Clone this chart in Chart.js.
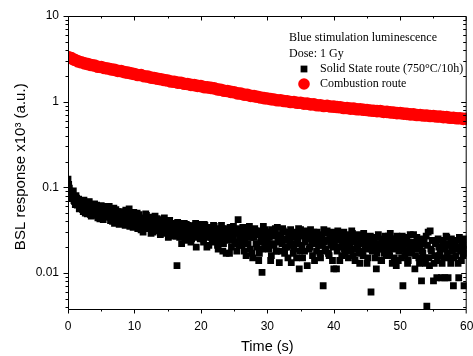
<!DOCTYPE html>
<html><head><meta charset="utf-8">
<script src="https://cdn.jsdelivr.net/npm/chart.js@4"></script>
<style>html,body{margin:0;padding:0;background:#fff;overflow:hidden}</style>
</head><body>
<canvas id="c" width="473" height="356" style="width:473px;height:356px;display:block"></canvas>
<script>
// ---- data ----
const solidStateStep = 0.2;   // s between samples, first set starts at 0 s
const solidStateValues = [
  0.125,0.098,0.085,0.074,0.091,0.068,0.080,0.062,0.073,0.058,
  0.066,0.055,0.071,0.050,0.062,0.057,0.068,0.048,0.060,0.053,
  0.064,0.047,0.058,0.052,0.043,0.061,0.050,0.055,0.045,0.057,
  0.049,0.060,0.041,0.053,0.046,0.038,0.055,0.044,0.050,0.042,
  0.052,0.040,0.047,0.036,0.049,0.043,0.056,0.039,0.045,0.034,
  0.046,0.038,0.050,0.035,0.042,0.032,0.044,0.039,0.036,0.047,
  0.033,0.041,0.037,0.045,0.030,0.039,0.034,0.043,0.031,0.038,
  0.035,0.042,0.029,0.037,0.033,0.040,0.028,0.036,0.031,0.027,
  0.038,0.030,0.0122,0.034,0.026,0.036,0.029,0.033,0.024,0.037,
  0.031,0.027,0.035,0.025,0.032,0.029,0.038,0.026,0.030,0.034,
  0.028,0.033,0.023,0.036,0.027,0.031,0.021,0.034,0.026,0.030,
  0.035,0.024,0.029,0.019,0.032,0.026,0.033,0.022,0.028,0.017,
  0.031,0.025,0.034,0.020,0.027,0.030,0.023,0.018,0.042,0.026,
  0.029,0.021,0.033,0.024,0.016,0.030,0.027,0.019,0.032,0.015,
  0.026,0.031,0.020,0.028,0.017,0.023,0.0102,0.035,0.022,0.029,
  0.024,0.019,0.030,0.016,0.027,0.021,0.033,0.018,0.025,0.0132,
  0.028,0.022,0.031,0.017,0.025,0.020,0.029,0.023,0.0132,0.026,
  0.019,0.027,0.015,0.024,0.0112,0.032,0.021,0.028,0.018,0.025,
  0.0122,0.029,0.020,0.026,0.016,0.030,0.022,0.018,0.027,0.024,
  0.015,0.028,0.0071,0.023,0.019,0.031,0.017,0.025,0.021,0.014,
  0.0112,0.026,0.0112,0.031,0.020,0.024,0.016,0.028,0.019,0.022,
  0.025,0.015,0.021,0.018,0.029,0.023,0.014,0.026,0.020,0.017,
  0.022,0.027,0.016,0.024,0.019,0.013,0.025,0.021,0.006,0.018,
  0.023,0.015,0.0112,0.026,0.019,0.021,0.014,0.024,0.017,0.022,
  0.020,0.027,0.016,0.023,0.013,0.019,0.025,0.0122,0.021,0.018,
  0.024,0.015,0.0071,0.022,0.018,0.026,0.014,0.020,0.017,0.023,
  0.028,0.0112,0.019,0.024,0.015,0.021,0.0081,0.017,0.023,0.013,
  0.0041,0.030,0.0122,0.019,0.024,0.0081,0.016,0.022,0.014,0.020,
  0.017,0.0088,0.023,0.015,0.019,0.026,0.0088,0.021,0.013,0.018,
  0.0071,0.022,0.016,0.019,0.0088,0.024,0.014,0.020,0.0071,0.017,
  0.019
];
const solidStateOffsetValues = [   // samples in between, starting at 0.1 s
  0.108,0.090,0.076,0.084,0.070,0.063,0.075,0.066,0.056,0.069,
  0.060,0.052,0.064,0.058,0.049,0.067,0.054,0.046,0.059,0.051,
  0.055,0.062,0.044,0.050,0.059,0.048,0.042,0.053,0.060,0.046,
  0.054,0.045,0.051,0.040,0.057,0.048,0.043,0.052,0.037,0.047,
  0.044,0.050,0.038,0.054,0.041,0.046,0.035,0.048,0.042,0.051,
  0.040,0.045,0.033,0.048,0.037,0.043,0.030,0.041,0.049,0.034,
  0.043,0.036,0.029,0.040,0.035,0.046,0.032,0.037,0.041,0.028,
  0.039,0.032,0.044,0.030,0.038,0.026,0.041,0.034,0.037,0.030,
  0.033,0.027,0.039,0.031,0.035,0.022,0.032,0.038,0.028,0.034,
  0.036,0.029,0.023,0.033,0.027,0.036,0.020,0.031,0.037,0.025,
  0.032,0.025,0.037,0.029,0.020,0.034,0.026,0.030,0.023,0.036,
  0.027,0.033,0.021,0.030,0.025,0.036,0.018,0.029,0.033,0.024,
  0.028,0.017,0.032,0.024,0.035,0.022,0.029,0.033,0.021,0.030,
  0.025,0.034,0.018,0.028,0.031,0.022,0.035,0.026,0.017,0.029,
  0.033,0.022,0.029,0.014,0.031,0.025,0.019,0.027,0.032,0.021,
  0.030,0.026,0.014,0.032,0.022,0.028,0.018,0.034,0.023,0.027,
  0.018,0.033,0.024,0.020,0.030,0.015,0.027,0.032,0.021,0.017,
  0.030,0.022,0.026,0.033,0.018,0.027,0.015,0.029,0.023,0.031,
  0.026,0.019,0.032,0.023,0.028,0.014,0.025,0.030,0.021,0.017,
  0.027,0.021,0.032,0.018,0.024,0.029,0.016,0.026,0.030,0.020,
  0.023,0.029,0.018,0.025,0.014,0.027,0.022,0.030,0.017,0.025,
  0.028,0.020,0.024,0.031,0.016,0.026,0.019,0.022,0.028,0.013,
  0.025,0.018,0.029,0.021,0.026,0.015,0.023,0.027,0.019,0.024,
  0.020,0.026,0.017,0.028,0.022,0.014,0.025,0.019,0.027,0.016,
  0.024,0.017,0.029,0.020,0.025,0.015,0.022,0.027,0.014,0.023,
  0.019,0.027,0.021,0.016,0.025,0.013,0.023,0.028,0.018,0.021,
  0.022,0.016,0.026,0.020,0.013,0.025,0.018,0.022,0.015,0.027,
  0.021,0.015,0.031,0.018,0.024,0.013,0.022,0.0088,0.025,0.016,
  0.024,0.013,0.020,0.0088,0.027,0.017,0.022,0.015,0.025,0.019,
  0.015,0.024,0.020,0.013,0.026,0.018,0.022,0.016,0.025,0.021
];
const combustionStep = 0.5;   // s between samples
const combustionValues = [
  3.32,3.22,3.08,2.95,2.88,2.80,2.74,2.68,2.64,2.56,
  2.54,2.47,2.44,2.38,2.35,2.29,2.27,2.21,2.18,2.14,
  2.10,2.05,2.04,1.98,1.96,1.91,1.89,1.85,1.83,1.79,
  1.77,1.72,1.71,1.67,1.66,1.62,1.61,1.57,1.56,1.53,
  1.52,1.48,1.47,1.45,1.43,1.39,1.38,1.34,1.33,1.30,
  1.29,1.25,1.24,1.21,1.20,1.17,1.16,1.14,1.12,1.10,
  1.09,1.07,1.06,1.04,1.04,1.02,1.01,0.99,0.99,0.97,
  0.97,0.95,0.95,0.93,0.93,0.91,0.91,0.89,0.895,0.88,
  0.875,0.865,0.86,0.845,0.845,0.83,0.83,0.815,0.815,0.805,
  0.80,0.79,0.785,0.775,0.775,0.76,0.76,0.75,0.745,0.735,
  0.735,0.725,0.72,0.71,0.71,0.70,0.70,0.69,0.69,0.68,
  0.68,0.67,0.67,0.66,0.66,0.65,0.65,0.64,0.64,0.63,
  0.63
];
const seriesNames = ['Solid State route (750°C/10h)', 'Combustion route'];
const legendTitleLines = ['Blue stimulation luminescence', 'Dose: 1 Gy'];
const xTickValues = [0, 10, 20, 30, 40, 50, 60];
const xMinorTickValues = [5, 15, 25, 35, 45, 55];
const yTickValues = [0.01, 0.1, 1, 10];
const yMinorTickValues = [0.004,0.005,0.006,0.007,0.008,0.009,
  0.02,0.03,0.04,0.05,0.06,0.07,0.08,0.09,
  0.2,0.3,0.4,0.5,0.6,0.7,0.8,0.9,
  2,3,4,5,6,7,8,9];
const xTitle = 'Time (s)';
const yTitle = 'BSL response x10³ (a.u.)\u2002';

// ---- build points ----
const toPoints = (vals, step, start) => vals.map((v, i) => ({ x: +(start + i * step).toFixed(2), y: v }));
const solidStatePoints = toPoints(solidStateValues, solidStateStep, 0)
  .concat(toPoints(solidStateOffsetValues, solidStateStep, 0.1))
  .sort((a, b) => a.x - b.x);

const SANS = "'Liberation Sans', Arial, sans-serif";
const SERIF = "'Liberation Serif', 'Times New Roman', serif";

const axisFrame = {
  id: 'axisFrame',
  afterDraw(chart) {
    const { ctx, chartArea: a, scales: { x, y } } = chart;
    const L = a.left + 0.5, R = a.right - 0.5, T = a.top + 0.5, B = a.bottom - 0.5;
    const cx = v => Math.min(R, Math.max(L, Math.round(x.getPixelForValue(v)) + 0.5));
    const cy = v => Math.min(B, Math.max(T, Math.round(y.getPixelForValue(v)) + 0.5));
    ctx.save();
    ctx.strokeStyle = '#000';
    ctx.lineWidth = 1;
    ctx.beginPath();
    ctx.rect(L, T, R - L, B - T);
    const xt = (v, len) => { const p = cx(v); ctx.moveTo(p, B); ctx.lineTo(p, B + len); ctx.moveTo(p, T); ctx.lineTo(p, T + len); };
    const yt = (v, len) => { const p = cy(v); ctx.moveTo(L, p); ctx.lineTo(L - len, p); ctx.moveTo(R, p); ctx.lineTo(R - len, p); };
    xTickValues.forEach(v => xt(v, 4));
    xMinorTickValues.forEach(v => xt(v, 2));
    yTickValues.forEach(v => yt(v, 5));
    yMinorTickValues.forEach(v => yt(v, 3));
    ctx.stroke();
    ctx.restore();
  }
};

const legendBox = {
  id: 'legendBox',
  afterDraw(chart) {
    const { ctx } = chart;
    ctx.save();
    ctx.fillStyle = '#000';
    ctx.font = '12px ' + SERIF;
    ctx.textBaseline = 'middle';
    ctx.textAlign = 'left';
    ctx.fillText(legendTitleLines[0], 289, 38);
    ctx.fillText(legendTitleLines[1], 289, 53.5);
    const rows = [69, 84];
    chart.data.datasets.forEach((ds, i) => {
      ctx.fillStyle = ds.backgroundColor;
      Chart.helpers.drawPoint(ctx, {
        pointStyle: ds.pointStyle, radius: i === 0 ? 4.8 : 5.8, rotation: 0, borderWidth: 0
      }, 304, rows[i]);
      ctx.fillStyle = '#000';
      ctx.fillText(ds.label, 320, rows[i]);
    });
    ctx.restore();
  }
};

new Chart(document.getElementById('c'), {
  type: 'scatter',
  data: {
    datasets: [
      { label: seriesNames[0], data: solidStatePoints,
        pointStyle: 'rect', pointRadius: 4.8, backgroundColor: '#000', borderWidth: 0, clip: 0 },
      { label: seriesNames[1], data: toPoints(combustionValues, combustionStep, 0),
        pointStyle: 'circle', pointRadius: 6.3, backgroundColor: '#ff0000', borderWidth: 0, clip: 0 }
    ]
  },
  options: {
    responsive: false,
    animation: false,
    events: [],
    layout: { padding: { top: 16, right: 4, left: 0, bottom: 0 } },
    plugins: { legend: { display: false }, tooltip: { enabled: false } },
    scales: {
      x: {
        type: 'linear', min: 0, max: 60, bounds: 'data',
        afterBuildTicks: s => { s.ticks = xTickValues.map(v => ({ value: v })); },
        afterFit: s => { s.height = 46; s.paddingLeft = 0; s.paddingRight = 0; },
        grid: { display: false, drawTicks: false }, border: { display: false },
        ticks: { font: { family: SANS, size: 12 }, color: '#000', padding: 9, maxRotation: 0, autoSkip: false },
        title: { display: true, text: xTitle, color: '#000', font: { family: SANS, size: 14.5 }, padding: { top: 0, bottom: 0 } }
      },
      y: {
        type: 'logarithmic', min: 0.0037, max: 10, bounds: 'data',
        afterBuildTicks: s => { s.ticks = yTickValues.map(v => ({ value: v })); },
        afterFit: s => { s.width = 68; s.paddingTop = 0; s.paddingBottom = 0; },
        grid: { display: false, drawTicks: false }, border: { display: false },
        ticks: { font: { family: SANS, size: 12 }, color: '#000', padding: 9, autoSkip: false,
          callback: v => String(v) },
        title: { display: true, text: yTitle, color: '#000', font: { family: SANS, size: 15 }, padding: { top: 12, bottom: 0 } }
      }
    }
  },
  plugins: [axisFrame, legendBox]
});
</script>
</body></html>
